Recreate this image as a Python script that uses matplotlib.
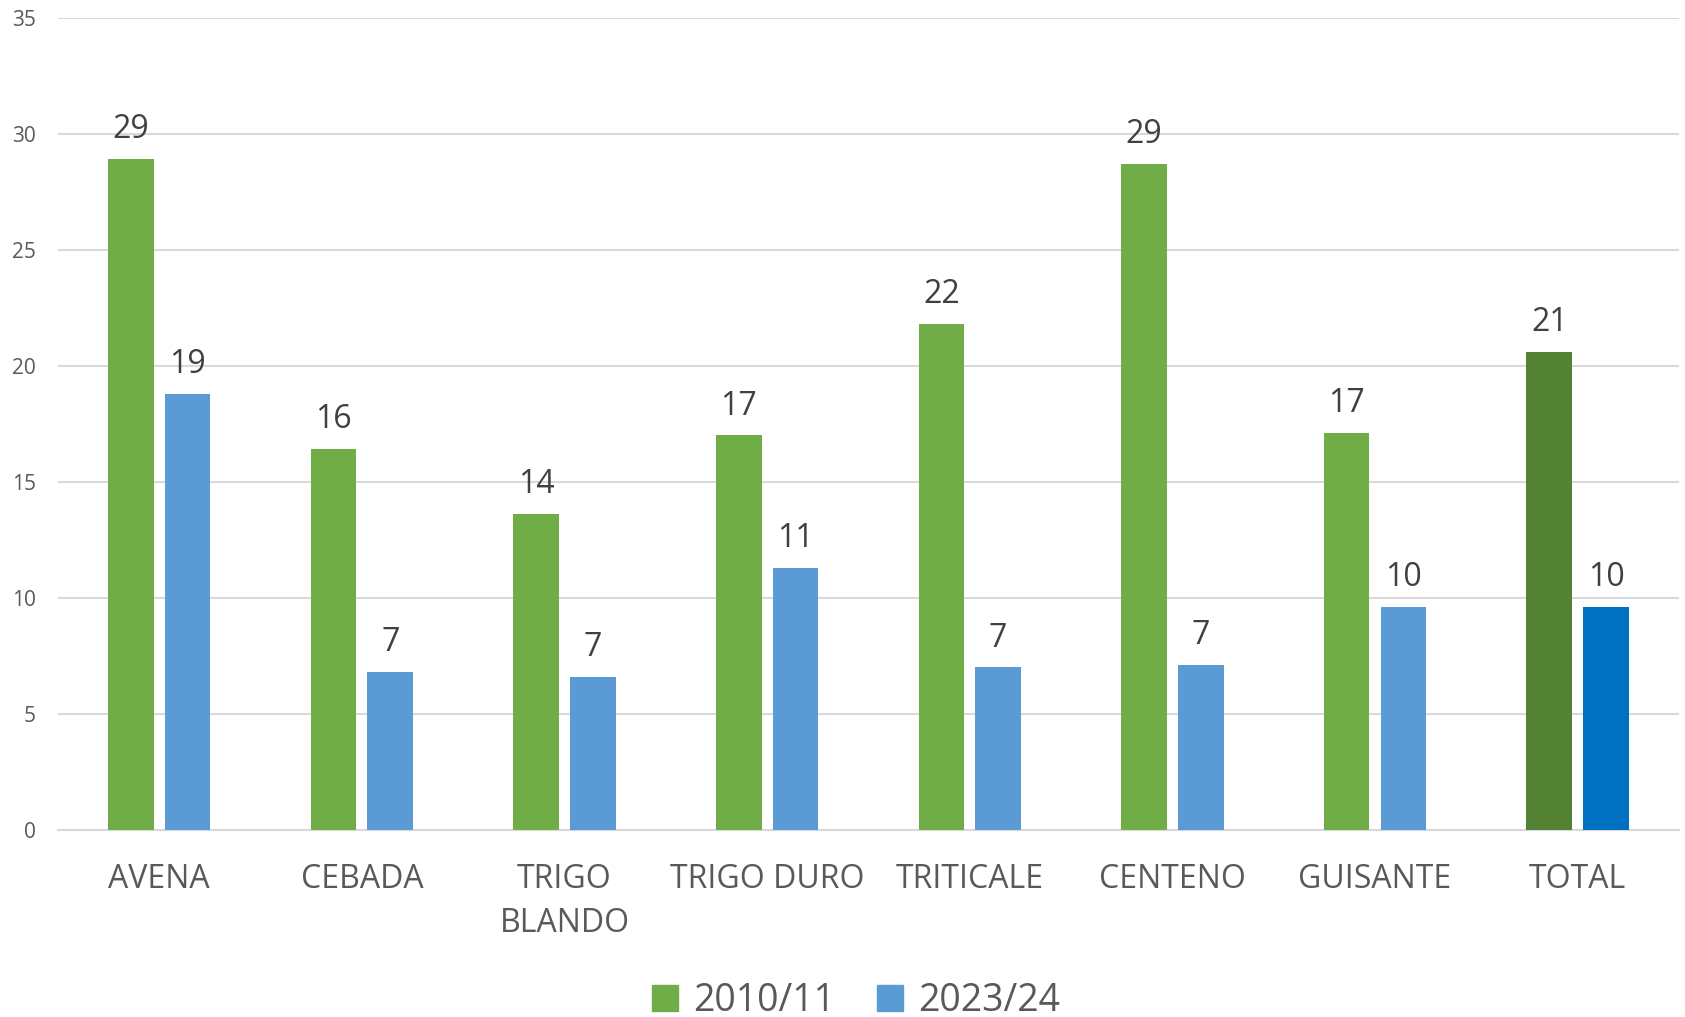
import matplotlib.pyplot as plt
import numpy as np

categories = ['AVENA', 'CEBADA', 'TRIGO\nBLANDO', 'TRIGO DURO', 'TRITICALE',
              'CENTENO', 'GUISANTE', 'TOTAL']
series_names = ['2010/11', '2023/24']
values_2010 = [28.9, 16.4, 13.6, 17.0, 21.8, 28.7, 17.1, 20.6]
values_2023 = [18.8, 6.8, 6.6, 11.3, 7.0, 7.1, 9.6, 9.6]

green = '#70AD47'
blue = '#5B9BD5'
green_total = '#548235'
blue_total = '#0070C0'

plt.rcParams['font.family'] = ['Open Sans', 'DejaVu Sans']

fig = plt.figure(figsize=(16.85, 10.17), dpi=100)
ax = fig.add_axes([0.0344, 0.184, 0.962, 0.7986])

x = np.arange(len(categories))
w = 0.225
off = 0.14
c1 = [green] * (len(categories) - 1) + [green_total]
c2 = [blue] * (len(categories) - 1) + [blue_total]
b1 = ax.bar(x - off, values_2010, w, color=c1, label=series_names[0], zorder=3)
b2 = ax.bar(x + off, values_2023, w, color=c2, label=series_names[1], zorder=3)

for bars, vals in ((b1, values_2010), (b2, values_2023)):
    for r, v in zip(bars, vals):
        ax.annotate('{:.0f}'.format(v), (r.get_x() + r.get_width() / 2, v),
                    xytext=(0, 15), textcoords='offset points',
                    ha='center', va='baseline', fontsize=23, color='#404040')

ax.set_ylim(0, 35)
ax.set_xlim(-0.5, len(categories) - 0.5)
ax.set_yticks(np.arange(0, 36, 5))
ax.yaxis.grid(True, color='#D9D9D9', linewidth=1.5, zorder=0)
ax.set_axisbelow(True)
for s in ['top', 'right', 'left']:
    ax.spines[s].set_visible(False)
ax.spines['bottom'].set_color('#D9D9D9')
ax.spines['bottom'].set_linewidth(1.5)
ax.tick_params(axis='y', length=0, pad=16, labelsize=15, labelcolor='#595959')
ax.tick_params(axis='x', length=0, pad=24, labelsize=23, labelcolor='#595959')
ax.set_xticks(x)
ax.set_xticklabels(categories, linespacing=1.45)

handles = [plt.Rectangle((0, 0), 1, 1, color=green), plt.Rectangle((0, 0), 1, 1, color=blue)]
fig.legend(handles, series_names, loc='lower center', bbox_to_anchor=(0.508, -0.036),
           ncol=2, frameon=False, fontsize=27, labelcolor='#595959',
           handlelength=0.7, handleheight=0.7, handletextpad=0.4, columnspacing=1.1)

fig.savefig('out.png', dpi=100)
